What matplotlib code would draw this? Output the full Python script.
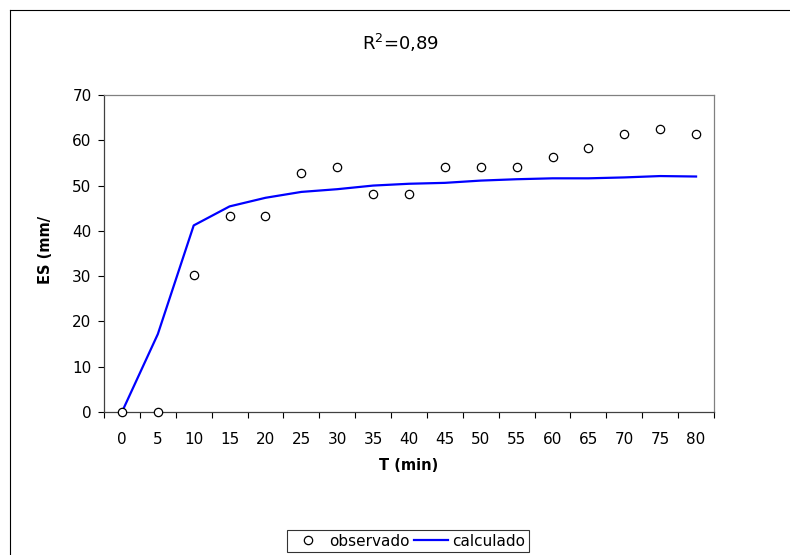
import numpy as np
import matplotlib.pyplot as plt
from matplotlib.lines import Line2D

plt.rcParams['font.family'] = ['DejaVu Sans']

# data
t_min = [0, 5, 10, 15, 20, 25, 30, 35, 40, 45, 50, 55, 60, 65, 70, 75, 80]
observado = [0, 0, 30.2, 43.3, 43.3, 52.8, 54.1, 48.1, 48.1, 54.1, 54.1, 54.1,
             56.4, 58.3, 61.3, 62.5, 61.3]
calculado = [0, 17.2, 41.2, 45.4, 47.3, 48.6, 49.2, 50.0, 50.4, 50.6, 51.1, 51.4,
             51.6, 51.6, 51.8, 52.1, 52.0]
y_ticks = [0, 10, 20, 30, 40, 50, 60, 70]

W, H = 790, 555
fig = plt.figure(figsize=(W / 100, H / 100), dpi=100)
ax = fig.add_axes([104 / W, (H - 412) / H, (714 - 104) / W, (412 - 95) / H])

x = np.arange(len(t_min))
ax.plot(x, calculado, color='#0000ff', linewidth=1.6, label='calculado', zorder=2)
ax.plot(x, observado, linestyle='none', marker='o', markersize=6,
        markerfacecolor='white', markeredgecolor='black', markeredgewidth=0.9,
        label='observado', zorder=3, clip_on=False)

ax.set_xlim(-0.5, len(t_min) - 0.5)
ax.set_ylim(0, 70)
ax.set_yticks(y_ticks)
ax.set_xticks(x)
ax.set_xticklabels([str(v) for v in t_min])
ax.set_xticks(np.arange(-0.5, len(t_min)), minor=True)
ax.tick_params(axis='x', which='major', length=0, pad=14.5, labelsize=11)
ax.tick_params(axis='x', which='minor', length=4.5, width=0.8, direction='out')
ax.tick_params(axis='y', length=4.5, width=0.8, pad=4.5, labelsize=11)

for s in ['left', 'bottom']:
    ax.spines[s].set_color('#404040')
    ax.spines[s].set_linewidth(0.9)
for s in ['top', 'right']:
    ax.spines[s].set_color('#808080')
    ax.spines[s].set_linewidth(0.9)

fig.text(409 / W, 1 - 466 / H, 'T (min)', ha='center', va='center',
         fontsize=10.5, fontweight='bold')
fig.text(45 / W, 1 - 250 / H, 'ES (mm/', ha='center', va='center', rotation=90,
         fontsize=10.5, fontweight='bold')

fig.text(401 / W, 1 - 43 / H, 'R$^2$=0,89', ha='center', va='center', fontsize=13)

handles, labels = ax.get_legend_handles_labels()
leg = fig.legend([handles[1], handles[0]], [labels[1], labels[0]],
                 loc='center', bbox_to_anchor=(408 / W, 1 - 541 / H), ncol=2,
                 fontsize=11, frameon=True, fancybox=False, edgecolor='black',
                 handlelength=2.2, handletextpad=0.3, columnspacing=0.3,
                 borderpad=0.25, borderaxespad=0)
leg.get_frame().set_linewidth(0.8)

# outer chart frame (only left and top edges are visible)
fig.add_artist(Line2D([9.5 / W, 9.5 / W], [0, 1 - 9.5 / H], color='black', linewidth=0.8))
fig.add_artist(Line2D([9.5 / W, 1], [1 - 9.5 / H, 1 - 9.5 / H], color='black', linewidth=0.8))

fig.savefig('out.png', dpi=100)
